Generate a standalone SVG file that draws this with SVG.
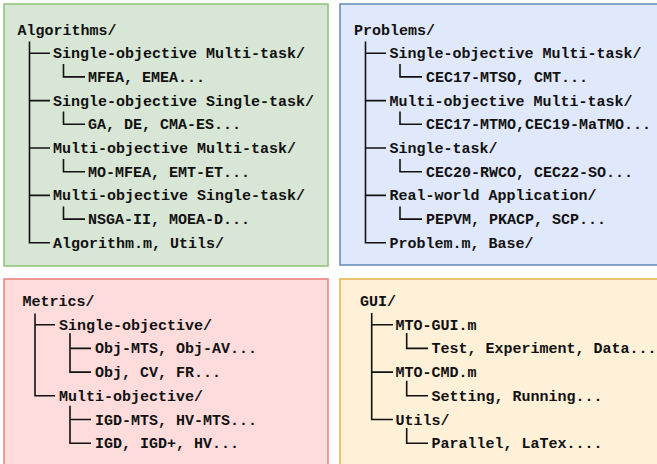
<svg xmlns="http://www.w3.org/2000/svg" width="657" height="464" viewBox="0 0 657 464">
<style>
.t{font-family:"Liberation Mono","Courier New",monospace;font-weight:bold;font-size:15px;fill:#111}
.tree{fill:none;stroke:#111;stroke-width:1.6}
</style>
<rect x="0" y="0" width="657" height="464" fill="#ffffff"/>
<g id="algorithms">
<rect x="4" y="4" width="324" height="262" fill="#d8e6d5" stroke="#97c47d" stroke-width="1.6"/>
<text class="t" x="17.5" y="34.5">Algorithms/</text>
<text class="t" x="53" y="58.2">Single-objective Multi-task/</text>
<text class="t" x="88" y="81.9">MFEA, EMEA...</text>
<text class="t" x="53" y="105.6">Single-objective Single-task/</text>
<text class="t" x="88" y="129.3">GA, DE, CMA-ES...</text>
<text class="t" x="53" y="153">Multi-objective Multi-task/</text>
<text class="t" x="88" y="176.7">MO-MFEA, EMT-ET...</text>
<text class="t" x="53" y="200.4">Multi-objective Single-task/</text>
<text class="t" x="88" y="224.1">NSGA-II, MOEA-D...</text>
<text class="t" x="53" y="247.8">Algorithm.m, Utils/</text>
</g>
<g id="problems">
<rect x="340" y="4" width="330" height="261" fill="#e0e8fb" stroke="#6c8ebf" stroke-width="1.6"/>
<text class="t" x="354" y="34.5">Problems/</text>
<text class="t" x="389.5" y="58.2">Single-objective Multi-task/</text>
<text class="t" x="426" y="81.9">CEC17-MTSO, CMT...</text>
<text class="t" x="389.5" y="105.6">Multi-objective Multi-task/</text>
<text class="t" x="426" y="129.3">CEC17-MTMO,CEC19-MaTMO...</text>
<text class="t" x="389.5" y="153">Single-task/</text>
<text class="t" x="426" y="176.7">CEC20-RWCO, CEC22-SO...</text>
<text class="t" x="389.5" y="200.4">Real-world Application/</text>
<text class="t" x="426" y="224.1">PEPVM, PKACP, SCP...</text>
<text class="t" x="389.5" y="247.8">Problem.m, Base/</text>
</g>
<g id="metrics">
<rect x="4" y="279" width="324" height="200" fill="#ffdcdc" stroke="#ee8580" stroke-width="1.6"/>
<text class="t" x="22.5" y="306">Metrics/</text>
<text class="t" x="59" y="329.7">Single-objective/</text>
<text class="t" x="95" y="353.4">Obj-MTS, Obj-AV...</text>
<text class="t" x="95" y="377.1">Obj, CV, FR...</text>
<text class="t" x="59" y="400.8">Multi-objective/</text>
<text class="t" x="95" y="424.5">IGD-MTS, HV-MTS...</text>
<text class="t" x="95" y="448.2">IGD, IGD+, HV...</text>
</g>
<g id="gui">
<rect x="340" y="279" width="330" height="200" fill="#fff0d8" stroke="#e2b94f" stroke-width="1.6"/>
<text class="t" x="360" y="306">GUI/</text>
<text class="t" x="395.5" y="329.7">MTO-GUI.m</text>
<text class="t" x="431.5" y="353.4">Test, Experiment, Data...</text>
<text class="t" x="395.5" y="377.1">MTO-CMD.m</text>
<text class="t" x="431.5" y="400.8">Setting, Running...</text>
<text class="t" x="395.5" y="424.5">Utils/</text>
<text class="t" x="431.5" y="448.2">Parallel, LaTex....</text>
</g>
<g id="connectors">
<path class="tree" d="M29.5,41.5V242.8H50M29.5,53.2H50M29.5,100.6H50M29.5,148H50M29.5,195.4H50"/>
<path class="tree" d="M63.5,64V76.9H85M63.5,111.5V124.3H85M63.5,159V171.7H85M63.5,206.5V219.1H85"/>
<path class="tree" d="M365.5,41.5V242.8H386M365.5,53.2H386M365.5,100.6H386M365.5,148H386M365.5,195.4H386"/>
<path class="tree" d="M400,64V76.9H422M400,111.5V124.3H422M400,159V171.7H422M400,206.5V219.1H422"/>
<path class="tree" d="M35,313.5V395.8H55M35,324.7H55"/>
<path class="tree" d="M70,333.3V372.1H91M70,348.4H91M70,405.7V443.2H91M70,419.5H91"/>
<path class="tree" d="M371.7,313V419.5H393M371.7,324.7H393M371.7,372.1H393"/>
<path class="tree" d="M406.7,333V348.4H428M406.7,380.7V395.8H428M406.7,428V443.2H428"/>
</g>
</svg>
